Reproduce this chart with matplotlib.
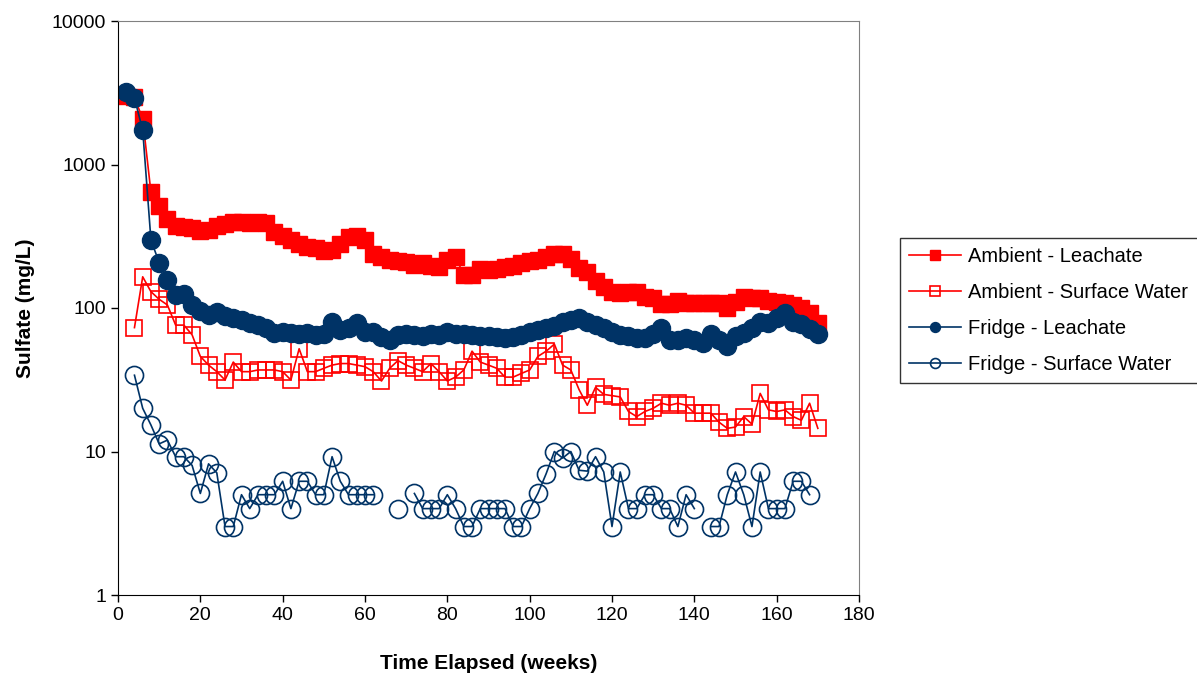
import numpy as np
import matplotlib
matplotlib.use('Agg')
import matplotlib.pyplot as plt
from matplotlib.ticker import FixedLocator, FixedFormatter, NullLocator

plt.rcParams['font.family'] = ['Liberation Sans', 'DejaVu Sans']

# sampling weeks
weeks_leach = list(range(2, 171, 2))
weeks_amb_sw = list(range(4, 171, 2))
weeks_fr_sw = list(range(4, 169, 2))

nan = np.nan

# sulfate (mg/L)
ambient_leachate = [3000, 2950, 2070, 640, 510, 415, 370, 365, 360, 342,
                    350, 370, 385, 400, 400, 390, 395, 390, 340, 315,
                    300, 280, 265, 260, 248, 255, 280, 310, 315, 300,
                    236, 225, 215, 211, 210, 200, 205, 195, 192, 215,
                    225, 171, 170, 186, 185, 188, 192, 195, 205, 211,
                    215, 225, 236, 236, 218, 190, 177, 155, 141, 130,
                    128, 130, 130, 120, 118, 106, 106, 111, 108, 108,
                    108, 108, 108, 100, 110, 120, 118, 118, 111, 110,
                    108, 105, 100, 93, 79]

ambient_surface = [73, 165, 130, 115, 105, 76, 76, 65, 46, 40,
                   36, 31.5, 42, 36, 36, 37, 37, 37, 36, 31.5,
                   52, 36, 36, 38, 40, 41, 41, 40, 39, 36,
                   31, 38, 43, 40, 38, 36, 41, 36, 31, 33,
                   37, 50, 42, 40, 38, 33, 33, 35, 37, 46,
                   50, 56, 40, 37, 27, 21, 28, 25, 24.5, 24,
                   19, 17.5, 19, 20, 21.7, 21, 21.7, 21, 18.5, 18.5,
                   18.5, 16, 14.5, 14.8, 17.5, 15.5, 25.4, 19.5, 19, 19.5,
                   17.5, 16.5, 21.7, 14.5]

fridge_leachate = [3200, 2900, 1740, 298, 207, 157, 123, 126, 105, 95,
                   90, 94, 88, 85, 82, 78, 76, 72, 67, 68,
                   67, 66, 67, 65, 66, 80, 70, 72, 78, 68,
                   68, 63, 60, 65, 66, 65, 64, 66, 65, 68,
                   66, 66, 65, 64, 64, 63, 61.5, 63, 65, 68,
                   70, 72, 75, 80, 82, 85, 80, 76, 72, 68,
                   65, 64, 62, 62, 66, 72, 60, 60, 62, 60,
                   57, 66, 60, 54, 64, 67, 72, 80, 78, 85,
                   92, 80, 77, 71, 66]

fridge_surface = [34, 20, 15.3, 11.3, 12, 9.2, 9.2, 8, 5.1, 8.2,
                  7.1, 3, 3, 5, 4, 5, 5, 5, 6.2, 4,
                  6.2, 6.2, 5, 5, 9.2, 6.2, 5, 5, 5, 5,
                  nan, nan, 4, nan, 5.1, 4, 4, 4, 5, 4,
                  3, 3, 4, 4, 4, 4, 3, 3, 4, 5.1,
                  7, 10, 9, 10, 7.4, 7.3, 9.2, 7.2, 3, 7.2,
                  4, 4, 5, 5, 4, 4, 3, 5, 4, nan,
                  3, 3, 5, 7.2, 5, 3, 7.2, 4, 4, 4,
                  6.2, 6.2, 5]

red = '#FF0000'
navy = '#003366'

fig = plt.figure(figsize=(11.97, 6.77), dpi=100)
ax = fig.add_axes([118/1197, 1-595/677, (859-118)/1197, (595-21)/677])

ax.plot(weeks_leach, ambient_leachate, color=red, lw=1.2, marker='s', ms=12,
        mfc=red, mec=red, label='Ambient - Leachate')
ax.plot(weeks_amb_sw, ambient_surface, color=red, lw=1.2, marker='s', ms=12,
        mfc='none', mec=red, mew=1.2, label='Ambient - Surface Water')
ax.plot(weeks_leach, fridge_leachate, color=navy, lw=1.2, marker='o', ms=13,
        mfc=navy, mec=navy, label='Fridge - Leachate')
ax.plot(weeks_fr_sw, fridge_surface, color=navy, lw=1.2, marker='o', ms=13,
        mfc='none', mec=navy, mew=1.2, label='Fridge - Surface Water')

ax.set_yscale('log')
ax.set_ylim(1, 10000)
ax.set_xlim(0, 180)
ax.set_xticks(range(0, 181, 20))
ax.yaxis.set_major_locator(FixedLocator([1, 10, 100, 1000, 10000]))
ax.yaxis.set_major_formatter(FixedFormatter(['1', '10', '100', '1000', '10000']))
ax.yaxis.set_minor_locator(NullLocator())
ax.tick_params(labelsize=14, length=5, width=1, direction='out')

for s in ['top', 'right']:
    ax.spines[s].set_color('#808080')
for s in ['left', 'bottom']:
    ax.spines[s].set_color('black')

ax.set_xlabel('Time Elapsed (weeks)', fontsize=15, fontweight='bold', labelpad=22)
ax.set_ylabel('Sulfate (mg/L)', fontsize=15, fontweight='bold', labelpad=12)

leg = fig.legend(loc='upper left', bbox_to_anchor=(900/1197, 1-238/677),
                 fontsize=14.5, markerscale=0.55, frameon=True, fancybox=False,
                 edgecolor='black', handlelength=2.6, handletextpad=0.35,
                 labelspacing=0.85, borderpad=0.45, borderaxespad=0)
leg.get_frame().set_linewidth(1)

plt.savefig('out.png', dpi=100)
